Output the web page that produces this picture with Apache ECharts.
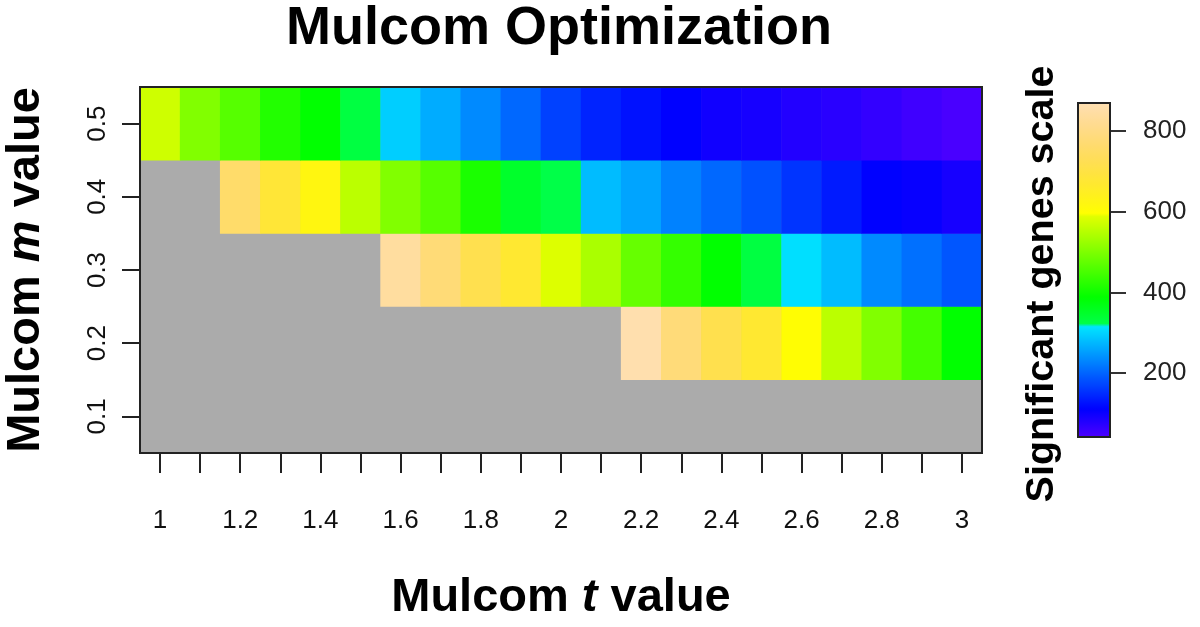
<!DOCTYPE html>
<html>
<head>
<meta charset="utf-8">
<script src="https://cdn.jsdelivr.net/npm/echarts@6/dist/echarts.min.js"></script>
<style>
html,body{margin:0;padding:0;background:#fff;}
#chart{width:1200px;height:627px;}
</style>
</head>
<body>
<div id="chart"></div>
<script>
// ---- data ----
var tValues = ['1','1.1','1.2','1.3','1.4','1.5','1.6','1.7','1.8','1.9','2','2.1','2.2','2.3','2.4','2.5','2.6','2.7','2.8','2.9','3'];
var mValues = ['0.1','0.2','0.3','0.4','0.5'];
var m01 = [null,null,null,null,null,null,null,null,null,null,null,null,null,null,null,null,null,null,null,null,null];
var m02 = [null,null,null,null,null,null,null,null,null,null,null,null,862,780,715,670,600,555,502,448,387];
var m03 = [null,null,null,null,null,null,838,778,717,670,585,539,478,434,387,329,310,279,234,211,188];
var m04 = [null,null,759,680,620,555,502,464,410,348,322,279,257,226,203,183,157,134,111,104,91];
var m05 = [571,502,464,417,387,329,295,264,234,203,168,142,126,111,96,91,80,73,65,54,45];
var scaleMin = 42, scaleMax = 869;
var cbTicks = [200, 400, 600, 800];

// ---- R topo.colors palette ----
function hsvHex(h, s, v) {
  var i = Math.floor(h * 6), f = h * 6 - i;
  var p = v * (1 - s), q = v * (1 - f * s), t = v * (1 - (1 - f) * s);
  var r, g, b;
  switch (((i % 6) + 6) % 6) {
    case 0: r = v; g = t; b = p; break;
    case 1: r = q; g = v; b = p; break;
    case 2: r = p; g = v; b = t; break;
    case 3: r = p; g = q; b = v; break;
    case 4: r = t; g = p; b = v; break;
    default: r = v; g = p; b = q;
  }
  function hx(x) { var s2 = Math.round(x * 255).toString(16); return s2.length < 2 ? '0' + s2 : s2; }
  return '#' + hx(r) + hx(g) + hx(b);
}
function seq(a, b, n) { var out = []; for (var x = 0; x < n; x++) out.push(n === 1 ? a : a + (b - a) * x / (n - 1)); return out; }
function topoColors(n) {
  var j = Math.floor(n / 3), k = Math.floor(n / 3), i = n - j - k;
  var c = [];
  seq(43/60, 31/60, i).forEach(function (h) { c.push(hsvHex(h, 1, 1)); });
  seq(23/60, 11/60, j).forEach(function (h) { c.push(hsvHex(h, 1, 1)); });
  var hs = seq(10/60, 6/60, k), ss = seq(1, 0.3, k);
  hs.forEach(function (h, idx) { c.push(hsvHex(h, ss[idx], 1)); });
  return c;
}
var palette = topoColors(300);

var rows = [m01, m02, m03, m04, m05];
var cells = [];
rows.forEach(function (row, yi) {
  row.forEach(function (v, xi) { if (v !== null) cells.push([xi, yi, v]); });
});

var FONT = 'Liberation Sans, Arial, Helvetica, sans-serif';
var chart = echarts.init(document.getElementById('chart'), null, { renderer: 'canvas' });
chart.setOption({
  backgroundColor: '#ffffff',
  animation: false,
  title: {
    text: 'Mulcom Optimization',
    left: 286, top: 2, padding: 0,
    textStyle: { fontSize: 54, fontWeight: 'bold', color: '#000', fontFamily: FONT }
  },
  grid: [
    { left: 140, top: 87, width: 842, height: 366, show: true, backgroundColor: '#ababab', borderWidth: 0, outerBoundsMode: 'none', containLabel: false },
    { left: 1078, top: 103, width: 32, height: 334, show: true, backgroundColor: 'transparent', borderColor: '#222', borderWidth: 2, z: 10, outerBoundsMode: 'none', containLabel: false },
    { left: 140, top: 87, width: 842, height: 366, show: true, backgroundColor: 'transparent', borderColor: '#222', borderWidth: 2, z: 10, outerBoundsMode: 'none', containLabel: false }
  ],
  xAxis: [
    {
      type: 'category', data: tValues, gridIndex: 0,
      axisLine: { show: false },
      axisTick: { show: true, alignWithLabel: true, interval: 0, length: 20, lineStyle: { color: '#222', width: 2 } },
      axisLabel: { interval: 1, fontSize: 26, color: '#111', margin: 55, fontFamily: FONT },
      splitLine: { show: false },
      name: 'Mulcom {i|t} value', nameLocation: 'middle', nameGap: 122,
      nameTextStyle: { fontSize: 47, fontWeight: 'bold', color: '#000', fontFamily: FONT,
        rich: { i: { fontSize: 47, fontWeight: 'bold', fontStyle: 'italic', color: '#000', fontFamily: FONT } } }
    },
    { type: 'category', data: [''], gridIndex: 1, show: false },
    { type: 'category', data: tValues, gridIndex: 2, show: false }
  ],
  yAxis: [
    {
      type: 'category', data: mValues, gridIndex: 0,
      axisLine: { show: false },
      axisTick: { show: true, alignWithLabel: true, interval: 0, length: 18, lineStyle: { color: '#222', width: 2 } },
      axisLabel: { rotate: 90, fontSize: 26, color: '#111', margin: 29, fontFamily: FONT },
      splitLine: { show: false },
      name: 'Mulcom {i|m} value', nameLocation: 'middle', nameGap: 90, nameRotate: 90,
      nameTextStyle: { fontSize: 47, fontWeight: 'bold', color: '#000', fontFamily: FONT,
        rich: { i: { fontSize: 47, fontWeight: 'bold', fontStyle: 'italic', color: '#000', fontFamily: FONT } } }
    },
    {
      type: 'value', gridIndex: 1, min: scaleMin, max: scaleMax, position: 'right',
      axisLine: { show: false },
      axisTick: { show: true, customValues: cbTicks, length: 16, lineStyle: { color: '#333', width: 2 } },
      axisLabel: { customValues: cbTicks, fontSize: 26, color: '#222', margin: 33, fontFamily: FONT },
      splitLine: { show: false }
    },
    {
      type: 'value', gridIndex: 1, min: scaleMin, max: scaleMax, position: 'left',
      axisLine: { show: false }, axisTick: { show: false }, axisLabel: { show: false }, splitLine: { show: false },
      name: 'Significant genes scale', nameLocation: 'middle', nameRotate: 90, nameGap: 16,
      nameTextStyle: { fontSize: 39.5, fontWeight: 'bold', color: '#000', fontFamily: FONT, padding: [0, 28, 0, 0] }
    },
    { type: 'category', data: mValues, gridIndex: 2, show: false }
  ],
  visualMap: {
    type: 'continuous', min: scaleMin, max: scaleMax, seriesIndex: 0, dimension: 2,
    calculable: false, left: 1078, top: 103, itemWidth: 32, itemHeight: 334, padding: 0,
    text: ['', ''], textStyle: { color: 'rgba(0,0,0,0)' },
    inRange: { color: palette }
  },
  series: [{
    type: 'heatmap', xAxisIndex: 0, yAxisIndex: 0, data: cells,
    itemStyle: { borderWidth: 0 }, emphasis: { disabled: true }
  }]
});
</script>
</body>
</html>
